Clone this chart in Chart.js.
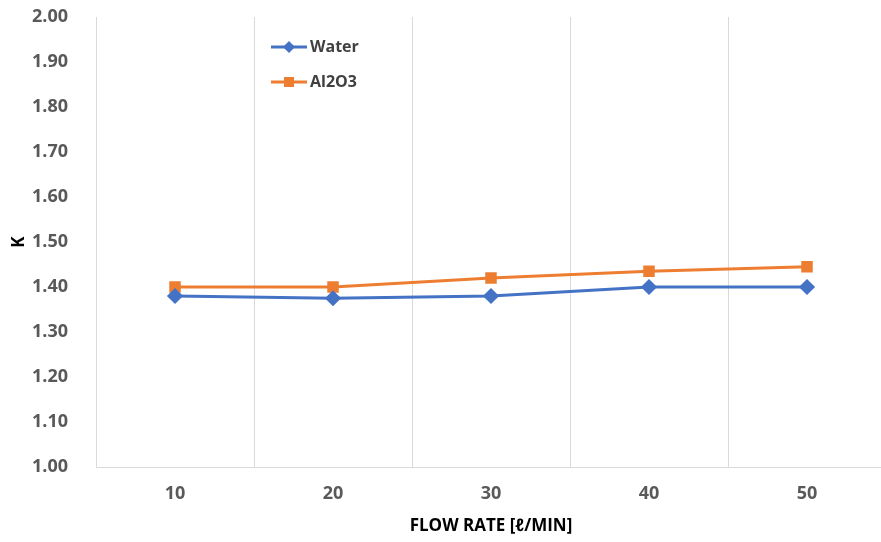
<!DOCTYPE html>
<html>
<head>
<meta charset="utf-8">
<script src="https://cdn.jsdelivr.net/npm/chart.js@4"></script>
<style>
  html, body { margin: 0; padding: 0; background: #fff; overflow: hidden; }
  #wrap { width: 895px; height: 542px; }
</style>
</head>
<body>
<div id="wrap"><canvas id="k_chart" width="895" height="542"></canvas></div>
<script>
var flowRates = ['10', '20', '30', '40', '50'];
var waterK = [1.38, 1.375, 1.38, 1.40, 1.40];
var al2o3K = [1.40, 1.40, 1.42, 1.435, 1.445];
var yTicks = [1.0, 1.1, 1.2, 1.3, 1.4, 1.5, 1.6, 1.7, 1.8, 1.9, 2.0];

// legend drawn inside the plot, Excel style
var floatLegend = {
  id: 'floatLegend',
  afterDraw: function (chart) {
    var ctx = chart.ctx;
    ctx.save();
    chart.data.datasets.forEach(function (ds, i) {
      var y = 47 + i * 35;
      ctx.strokeStyle = ds.borderColor;
      ctx.lineWidth = 3;
      ctx.beginPath();
      ctx.moveTo(271, y);
      ctx.lineTo(307, y);
      ctx.stroke();
      ctx.fillStyle = ds.backgroundColor;
      ctx.beginPath();
      if (ds.pointStyle === 'rectRot') {
        ctx.moveTo(289, y - 6); ctx.lineTo(295, y); ctx.lineTo(289, y + 6); ctx.lineTo(283, y);
      } else {
        ctx.rect(284, y - 5, 10, 10);
      }
      ctx.fill();
      ctx.fillStyle = '#404040';
      ctx.font = 'bold 16px "Open Sans"';
      ctx.textBaseline = 'middle';
      ctx.fillText(ds.label, 310, y);
    });
    ctx.restore();
  }
};

new Chart(document.getElementById('k_chart'), {
  type: 'line',
  data: {
    labels: flowRates,
    datasets: [
      {
        label: 'Water',
        data: waterK,
        borderColor: '#4472C4',
        backgroundColor: '#4472C4',
        borderWidth: 3,
        pointStyle: 'rectRot',
        pointRadius: 6,
        pointHoverRadius: 6,
        tension: 0
      },
      {
        label: 'Al2O3',
        data: al2o3K,
        borderColor: '#ED7D31',
        backgroundColor: '#ED7D31',
        borderWidth: 3,
        pointStyle: 'rect',
        pointRadius: 6,
        pointHoverRadius: 6,
        tension: 0
      }
    ]
  },
  options: {
    responsive: false,
    animation: false,
    layout: { padding: { left: 0, top: 17, right: 9, bottom: 6 } },
    plugins: {
      legend: { display: false },
      tooltip: { enabled: false }
    },
    scales: {
      x: {
        offset: true,
        grid: { display: true, offset: true, color: '#d9d9d9', drawTicks: false },
        border: { color: '#d9d9d9' },
        ticks: { color: '#595959', font: { family: 'Open Sans', size: 18, weight: 'bold' }, padding: 16 },
        title: {
          display: true,
          text: 'FLOW RATE [ℓ/MIN]',
          color: '#000',
          font: { family: 'Open Sans', size: 17, weight: 'bold' },
          padding: { top: 4, bottom: 0 }
        },
        afterFit: function (s) { s.height = 542 - 467 - 6; }
      },
      y: {
        min: 1,
        max: 2,
        afterBuildTicks: function (s) { s.ticks = yTicks.map(function (v) { return { value: v }; }); },
        grid: { display: false },
        border: { display: false },
        ticks: {
          color: '#595959',
          font: { family: 'Open Sans', size: 18, weight: 'bold' },
          padding: 20,
          callback: function (v) { return Number(v).toFixed(2); }
        },
        title: {
          display: true,
          text: 'K',
          color: '#000',
          font: { family: 'Open Sans', size: 17, weight: 'bold' },
          padding: { top: 9, bottom: 0 }
        },
        afterFit: function (s) {
          s.width = 96;
          s.paddingTop = 0;
          s.paddingBottom = 0;
        }
      }
    }
  },
  plugins: [floatLegend]
});
</script>
</body>
</html>
